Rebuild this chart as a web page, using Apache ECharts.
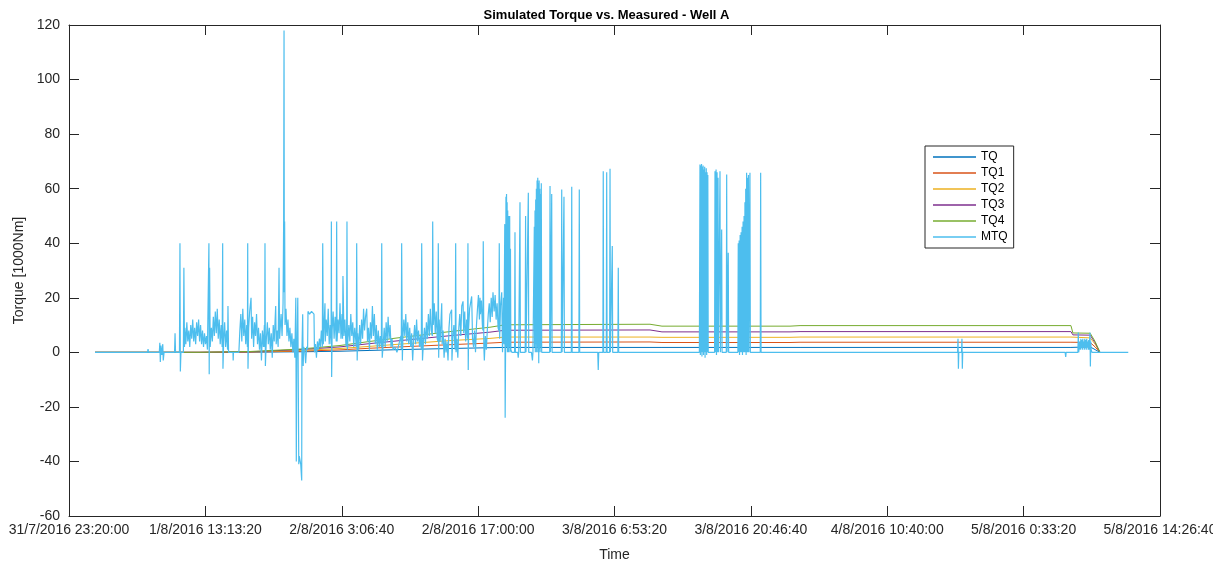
<!DOCTYPE html>
<html>
<head>
<meta charset="utf-8">
<title>Simulated Torque vs. Measured - Well A</title>
<script src="https://cdn.jsdelivr.net/npm/echarts@6/dist/echarts.min.js"></script>
<style>
  html, body { margin: 0; padding: 0; background: #fff; }
  .chart { width: 1213px; height: 563px; }
</style>
</head>
<body>
<div class="chart"></div>
<script>
// x values are hours since 31/7/2016 23:20:00
const simHours = [2.65, 13.34, 18.43, 23.53, 27.60, 30.65, 33.71, 38.80, 42.87, 44.40, 59.17, 60.39, 73.43, 74.45, 102.04, 102.24, 104.0, 104.5, 105.0];
const tq  = [0, 0, 0.05, 0.2, 0.4, 0.7, 1.0, 1.4, 1.7, 1.8, 1.8, 1.8, 1.8, 1.8, 1.8, 2.0, 2.0, 1.0, 0];
const tq1 = [0, 0, 0.1, 0.4, 0.9, 1.5, 2.0, 2.8, 3.4, 3.7, 3.8, 3.6, 3.6, 3.7, 3.7, 3.7, 3.6, 2.0, 0];
const tq2 = [0, 0, 0.2, 0.7, 1.4, 2.2, 3.0, 4.3, 5.1, 5.6, 5.6, 5.5, 5.5, 5.6, 5.6, 5.4, 5.3, 3.0, 0];
const tq3 = [0, 0, 0.2, 1.0, 2.0, 3.2, 4.3, 6.1, 7.4, 8.1, 8.2, 7.5, 7.5, 7.6, 7.6, 6.4, 6.3, 3.5, 0];
const tq4 = [0, 0, 0.3, 1.2, 2.5, 4.0, 5.4, 7.6, 9.2, 10.1, 10.3, 9.6, 9.6, 9.8, 9.8, 7.1, 7.0, 4.0, 0];

// measured torque [hours, value]
const mtq = [
  [2.65,0],[8.00,0],[8.05,1.2],[8.10,0],[9.20,0],[9.25,3.5],[9.30,-3.5],[9.36,2.5],[9.45,-1],[9.55,3],[9.60,-3],[9.68,0],
  [10.75,0],[10.80,7],[10.85,0],[11.25,0],[11.30,40],[11.34,-7],[11.40,0],[11.65,0],[11.70,31],[11.76,2],
  [11.8,9],[11.9,3],[12.0,11],[12.1,4],[12.2,8],[12.3,2],[12.4,10],[12.5,5],[12.6,12],[12.7,4],[12.8,9],[12.9,3],
  [13.0,11],[13.1,6],[13.2,12],[13.3,4],[13.4,10],[13.5,3],[13.6,8],[13.7,2],[13.8,7],[13.9,3],[14.0,6],[14.1,1],
  [14.22,1],[14.25,40],[14.28,-8],[14.32,31],[14.38,2],[14.5,9],[14.6,4],[14.7,13],[14.8,6],[14.9,15],[15.0,7],[15.1,16],
  [15.2,5],[15.3,12],[15.4,3],[15.5,10],[15.6,2],[15.65,40],[15.68,-6],[15.75,4],[15.85,11],[15.95,2],[16.05,8],
  [16.15,1],[16.19,17],[16.25,0],[16.70,0],[16.72,-3],[16.75,0],[17.3,0],
  [17.4,8],[17.5,14],[17.6,4],[17.7,16],[17.8,6],[17.9,12],[18.0,3],[18.1,10],[18.17,2],[18.2,40],[18.23,-6],[18.3,9],
  [18.4,15],[18.54,20],[18.6,5],[18.7,13],[18.8,2],[18.9,11],[19.0,6],[19.1,14],[19.2,3],[19.3,9],[19.4,1],
  [19.5,7],[19.6,-3],[19.7,8],[19.8,2],[19.9,10],[19.93,2],[19.96,40],[20.0,-5],[20.1,5],[20.2,11],[20.3,3],[20.4,9],
  [20.5,1],[20.6,7],[20.7,-2],[20.8,10],[20.9,4],[21.05,17],[21.1,3],[21.2,8],[21.3,2],[21.39,31],[21.45,5],
  [21.6,14],[21.7,6],[21.8,18],[21.86,48],[21.9,118],[21.93,22],[21.96,48],[22.0,10],[22.1,16],[22.2,6],
  [22.3,12],[22.4,4],[22.5,9],[22.6,2],[22.7,7],[22.8,0],[22.9,5],[23.0,-2],[23.1,20],[23.15,-40],[23.2,-3],
  [23.3,20],[23.4,-41],[23.45,-38],[23.6,-41],[23.7,-47],[23.72,0],[23.8,14],[23.85,-5],[23.9,2],[24.0,1],
  [24.1,-4],[24.2,2],[24.3,1],[24.34,15],[24.5,14],[24.7,15],[24.95,14],[25.0,0],[25.1,3],[25.2,-2],[25.3,4],[25.4,1],
  [25.5,5],[25.6,2],[25.7,8],[25.8,2],[25.84,40],[25.9,3],[26.07,18],[26.1,4],[26.2,12],[26.3,6],[26.4,16],[26.5,3],
  [26.6,10],[26.69,3],[26.72,48],[26.75,-9],[26.8,8],[26.9,15],[27.0,5],[27.1,13],[27.22,4],[27.26,48],[27.3,4],[27.4,12],[27.5,7],
  [27.6,18],[27.7,5],[27.8,14],[27.86,5],[27.9,28],[28.0,6],[28.1,12],[28.2,3],[28.27,2],[28.31,48],[28.35,1],[28.5,10],[28.6,4],
  [28.7,14],[28.8,6],[28.9,11],[29.0,2],[29.1,9],[29.26,2],[29.3,40],[29.35,-3],[29.4,7],[29.5,1],[29.6,10],[29.7,3],
  [29.8,12],[29.9,5],[30.0,16],[30.1,8],[30.2,13],[30.32,16],[30.4,4],[30.5,9],[30.6,1],[30.7,11],[30.8,5],
  [30.9,17],[31.0,6],[31.1,14],[31.2,3],[31.3,10],[31.4,1],[31.5,8],[31.6,2],[31.7,6],[31.81,2],[31.85,40],[31.9,-2],
  [32.0,3],[32.1,9],[32.2,2],[32.3,11],[32.4,4],[32.5,13],[32.6,5],[32.7,10],[32.8,2],[32.9,5],[33.0,1],
  [33.2,2],[33.4,0],[33.6,3],[33.8,6],[33.84,1],[33.88,40],[33.95,-3],[34.0,5],[34.1,12],[34.2,6],[34.3,14],[34.4,4],
  [34.5,11],[34.6,3],[34.7,9],[34.8,2],[34.9,7],[35.0,-3],[35.1,5],[35.2,10],[35.3,3],[35.4,12],[35.5,4],
  [35.6,8],[35.7,2],[35.8,6],[35.88,1],[35.92,40],[36.0,-3],[36.1,4],[36.2,9],[36.3,3],[36.4,11],[36.5,5],[36.6,14],
  [36.7,6],[36.8,16],[36.9,8],[37.0,6],[37.04,48],[37.1,10],[37.2,18],[37.3,7],[37.4,15],[37.5,5],[37.57,4],[37.61,40],[37.65,-2],
  [37.7,12],[37.8,4],[37.96,18],[38.0,3],[38.1,8],[38.2,-2],[38.3,5],[38.4,0],[38.5,4],[38.6,-3],[38.7,9],
  [38.8,14],[38.97,15.6],[39.0,-3],[39.1,6],[39.2,10],[39.3,2],[39.34,1],[39.38,40],[39.42,0],[39.5,5],[39.6,-2],
  [39.7,9],[39.8,14],[39.9,6],[40.0,17],[40.13,18.7],[40.2,7],[40.3,15],[40.4,4],[40.5,12],[40.59,5],[40.63,40],
  [40.66,-6.5],[40.7,9],[40.8,16],[41.01,20.5],[41.1,5],[41.2,2],[41.3,8],[41.4,0],[41.5,10],[41.6,16],
  [41.7,21],[41.8,12],[41.86,20],[41.9,14],[42.0,19],[42.1,10],[42.15,8],[42.19,40.7],[42.25,2],[42.3,-3],[42.4,6],
  [42.5,1],[42.6,8],[42.7,14],[42.8,18],[42.9,11],[43.0,20],[43.1,13],[43.18,22],[43.3,15],[43.4,21],
  [43.5,12],[43.6,18],[43.7,9],[43.78,8],[43.82,40],[43.86,5],[43.95,17],[44.07,22],[44.15,0],[44.25,20],[44.3,3],
  [44.38,47],[44.42,-24],[44.46,0],[44.5,57],[44.53,2],[44.56,58],[44.59,5],[44.62,55],[44.65,0],[44.68,52],
  [44.71,3],[44.74,46],[44.77,0],[44.8,50],[44.84,2],[44.88,50],[44.92,0],[44.96,38],[45.0,1],[45.1,0],
  [45.38,0],[45.42,44],[45.46,0],[45.7,0],[45.75,-2],[45.8,0],[45.89,0],[45.93,55],[45.97,0],[46.46,0],[46.5,50],
  [46.54,0],[46.74,0],[46.78,58.5],[46.82,0],[47.1,0],[47.2,-3],[47.25,0],[47.35,0],[47.39,46],[47.42,2],[47.46,52],[47.49,0],
  [47.53,56],[47.56,3],[47.6,60],[47.63,0],[47.67,63],[47.7,2],[47.74,64],[47.77,0],[47.8,62],[47.84,-4],
  [47.88,63],[47.91,1],[47.95,60],[47.98,0],[48.02,58],[48.06,2],[48.1,62],[48.14,0],[48.95,0],[48.99,61],
  [49.03,0],[49.12,0],[49.16,58],[49.2,0],[50.14,0],[50.18,59.7],[50.22,0],[50.37,0],[50.41,57],[50.45,0],
  [51.16,0],[51.2,60.7],[51.24,0],[51.93,0],[51.97,59.7],[52.01,0],[53.85,0],[53.9,-6.5],[53.95,0],
  [54.37,0],[54.41,66.4],[54.45,0],[54.72,0],[54.76,66],[54.8,0],[55.06,0],[55.1,67.3],[55.14,0],
  [55.29,0],[55.33,39],[55.37,0],[55.9,0],[55.94,31],[55.98,0],[64.2,0],
  [64.26,68.9],[64.3,-1],[64.34,68.5],[64.38,0],[64.42,69],[64.46,-1.5],[64.5,68],[64.54,0],[64.58,68.5],
  [64.62,-1],[64.66,67],[64.7,0],[64.74,68],[64.78,-2],[64.82,66],[64.86,0],[64.9,67.5],[64.94,-1],
  [64.98,66],[65.02,0],[65.06,65],[65.1,0],[65.75,0],[65.79,66.4],[65.83,0],[65.9,67],[65.94,-1],[66.0,66],
  [66.04,0],[66.1,64],[66.14,0],[66.26,0],[66.3,66.4],[66.34,0],[66.43,0],[66.47,45],[66.51,0],[66.94,0],
  [66.98,65.2],[67.02,0],[67.1,0],[67.14,36.5],[67.18,0],[68.12,0],[68.16,40],[68.2,0],[68.25,41],[68.29,-1],
  [68.35,43],[68.39,0],[68.45,44],[68.49,0],[68.55,46],[68.59,-1],[68.65,48],[68.69,0],[68.75,50],[68.79,0],
  [68.84,55],[68.88,0],[68.92,60],[68.96,-1],[69.01,65.8],[69.05,0],[69.1,64],[69.14,0],[69.2,65],[69.24,0],
  [69.31,0],[69.35,65.8],[69.39,0],[70.4,0],[70.44,65.8],[70.48,0],
  [90.5,0],[90.54,5],[90.58,-6],[90.62,0],[90.9,0],[90.94,5],[90.98,-6],[91.02,0],
  [101.45,0],[101.51,-1.7],[101.55,0],[102.75,0],[102.79,7.3],[102.83,0],[102.96,4],[103.0,1],[103.05,5],
  [103.1,1.5],[103.15,4.5],[103.2,1],[103.25,5],[103.3,2],[103.35,4],[103.4,1],[103.45,5],[103.5,1.5],
  [103.55,4.5],[103.6,1],[103.65,5],[103.7,2],[103.75,4],[103.8,1],[103.85,4.5],[103.9,1],[103.98,7.3],
  [104.02,-5.2],[104.06,4],[104.1,1],[104.18,0],[107.88,0]
];

const names = ['TQ', 'TQ1', 'TQ2', 'TQ3', 'TQ4', 'MTQ'];
const colors = ['#0072BD', '#D95319', '#EDB120', '#7E2F8E', '#77AC30', '#4DBEEE'];

window.onload = function () {
  const myChart = echarts.init(document.querySelector('.chart'));
  const t0 = Date.UTC(2016, 6, 31, 23, 20, 0);
  const pad = (n) => (n < 10 ? '0' + n : '' + n);
  // 时间刻度格式 d/m/yyyy H:mm:ss
  function fmtTime(v) {
    const d = new Date(t0 + v * 1000);
    return d.getUTCDate() + '/' + (d.getUTCMonth() + 1) + '/' + d.getUTCFullYear() + ' ' +
      d.getUTCHours() + ':' + pad(d.getUTCMinutes()) + ':' + pad(d.getUTCSeconds());
  }
  const toSec = (h) => Math.round(h * 3600);
  const simSeries = [tq, tq1, tq2, tq3, tq4].map((vals, i) => ({
    name: names[i],
    type: 'line',
    symbol: 'none',
    showSymbol: false,
    lineStyle: { width: 1, color: colors[i] },
    itemStyle: { color: colors[i] },
    data: vals.map((v, k) => [toSec(simHours[k]), v])
  }));
  const axisColor = '#262626';
  const fontFamily = 'Liberation Sans, Arial, sans-serif';
  const option = {
    animation: false,
    backgroundColor: '#fff',
    title: {
      text: 'Simulated Torque vs. Measured - Well A',
      left: 'center',
      top: 4,
      textStyle: { fontSize: 13, fontWeight: 'bold', color: '#000', fontFamily: fontFamily }
    },
    grid: { left: 69, right: 53, top: 25, bottom: 47, outerBoundsMode: 'none' },
    legend: {
      data: names,
      orient: 'vertical',
      left: 925,
      top: 146,
      padding: [5, 6, 5, 8],
      itemGap: 4,
      itemWidth: 43,
      itemHeight: 14,
      icon: 'path://M0,0H43V1.5H0Z',
      borderColor: axisColor,
      borderWidth: 1,
      backgroundColor: '#fff',
      textStyle: { fontSize: 12, color: '#000', fontFamily: fontFamily }
    },
    xAxis: [
      {
        type: 'value',
        min: 0,
        max: 400000,
        interval: 50000,
        name: 'Time',
        nameLocation: 'middle',
        nameGap: 32,
        nameTextStyle: { fontSize: 14, color: axisColor, fontFamily: fontFamily },
        axisLine: { onZero: false, lineStyle: { color: axisColor } },
        axisTick: { inside: true, length: 10, lineStyle: { color: axisColor } },
        axisLabel: { formatter: fmtTime, fontSize: 14, color: axisColor, margin: 7, fontFamily: fontFamily },
        splitLine: { show: false }
      },
      {
        type: 'value',
        position: 'top',
        min: 0,
        max: 400000,
        interval: 50000,
        axisLine: { onZero: false, lineStyle: { color: axisColor } },
        axisTick: { inside: true, length: 10, lineStyle: { color: axisColor } },
        axisLabel: { show: false },
        splitLine: { show: false }
      }
    ],
    yAxis: [
      {
        type: 'value',
        min: -60,
        max: 120,
        interval: 20,
        name: 'Torque [1000Nm]',
        nameLocation: 'middle',
        nameGap: 37,
        nameTextStyle: { fontSize: 14, color: axisColor, fontFamily: fontFamily },
        axisLine: { show: true, onZero: false, lineStyle: { color: axisColor } },
        axisTick: { show: true, inside: true, length: 10, lineStyle: { color: axisColor } },
        axisLabel: { fontSize: 14, color: axisColor, margin: 9, fontFamily: fontFamily },
        splitLine: { show: false }
      },
      {
        type: 'value',
        position: 'right',
        min: -60,
        max: 120,
        interval: 20,
        axisLine: { show: true, onZero: false, lineStyle: { color: axisColor } },
        axisTick: { show: true, inside: true, length: 10, lineStyle: { color: axisColor } },
        axisLabel: { show: false },
        splitLine: { show: false }
      }
    ],
    series: simSeries.concat([{
      name: 'MTQ',
      type: 'line',
      symbol: 'none',
      showSymbol: false,
      lineStyle: { width: 1.2, color: colors[5] },
      itemStyle: { color: colors[5] },
      data: mtq.map((p) => [toSec(p[0]), p[1]])
    }])
  };
  myChart.setOption(option);
};
</script>
</body>
</html>
